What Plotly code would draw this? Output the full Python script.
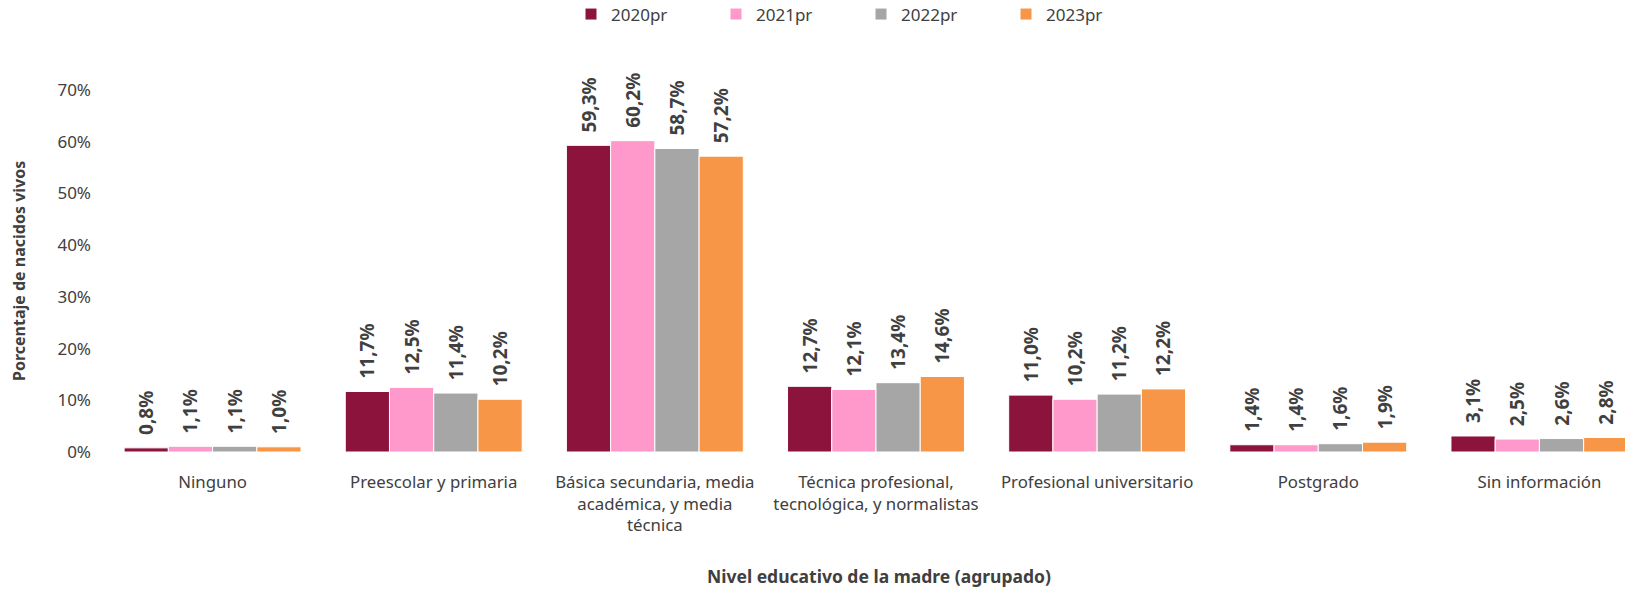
import plotly.graph_objects as go

categories = [
    "Ninguno",
    "Preescolar y primaria",
    "Básica secundaria, media<br>académica, y media<br>técnica",
    "Técnica profesional,<br>tecnológica, y normalistas",
    "Profesional universitario",
    "Postgrado",
    "Sin información",
]
series_names = ["2020pr", "2021pr", "2022pr", "2023pr"]
v2020 = [0.8, 11.7, 59.3, 12.7, 11.0, 1.4, 3.1]
v2021 = [1.1, 12.5, 60.2, 12.1, 10.2, 1.4, 2.5]
v2022 = [1.1, 11.4, 58.7, 13.4, 11.2, 1.6, 2.6]
v2023 = [1.0, 10.2, 57.2, 14.6, 12.2, 1.9, 2.8]
colors = ["#8C133B", "#FF99CC", "#A6A6A6", "#F79646"]
y_ticks = [0, 10, 20, 30, 40, 50, 60, 70]
y_ticktext = [f"{t}%" for t in y_ticks]

FONT = "Noto Sans"
TXT = "#404040"
PAD = "\u00a0\u00a0"

W, H = 1625, 589
L, R, T, B = 102, 0, 90, 137
PW, PH = W - L - R, H - T - B

fig = go.Figure()
for name, vals, col in zip(series_names, [v2020, v2021, v2022, v2023], colors):
    fig.add_trace(go.Bar(
        name=name, x=list(range(len(categories))), y=vals,
        marker=dict(color=col, line=dict(color="white", width=1)),
        text=[PAD + f"{v:.1f}%".replace(".", ",") for v in vals],
        textposition="outside", textangle=-90, cliponaxis=False,
        constraintext="none",
        textfont=dict(family=FONT, size=19, color=TXT, weight="bold"),
    ))

fig.update_layout(
    width=W, height=H,
    barmode="group", bargap=0.2, bargroupgap=0,
    plot_bgcolor="white", paper_bgcolor="white",
    margin=dict(l=L, r=R, t=T, b=B, autoexpand=False),
    font=dict(family=FONT, size=17, color=TXT),
    showlegend=True,
    legend=dict(orientation="h", xref="container", yref="container",
                x=571 / W, xanchor="left", y=1 - 14.5 / H, yanchor="middle",
                entrywidth=100, itemwidth=30, font=dict(size=17, color=TXT),
                traceorder="normal"),
    xaxis=dict(
        tickmode="array", tickvals=list(range(len(categories))), ticktext=categories,
        range=[-0.5, 6.387], showgrid=False, showline=False, ticks="",
        tickfont=dict(size=16.8, color=TXT), ticklabelstandoff=18, automargin=False,
    ),
    yaxis=dict(
        range=[0, 70], tickmode="array", tickvals=y_ticks, ticktext=y_ticktext,
        showgrid=False, showline=False, zeroline=False, ticks="",
        tickfont=dict(size=17, color=TXT), ticklabelstandoff=10, automargin=False,
    ),
    annotations=[
        dict(text="<b>Nivel educativo de la madre (agrupado)</b>", xref="paper", yref="paper",
             x=(879 - L) / PW, y=(H - B - 576) / PH, xanchor="center", yanchor="middle",
             showarrow=False, font=dict(size=17.5, color=TXT)),
        dict(text="<b>Porcentaje de nacidos vivos</b>", xref="paper", yref="paper",
             x=(19 - L) / PW, y=(H - B - 271) / PH, xanchor="center", yanchor="middle",
             showarrow=False, textangle=-90, font=dict(size=16, color=TXT)),
    ],
)
fig.write_html("out.html", config={"displayModeBar": False},
               post_script="document.body.style.margin='0';document.body.style.overflow='hidden';")
